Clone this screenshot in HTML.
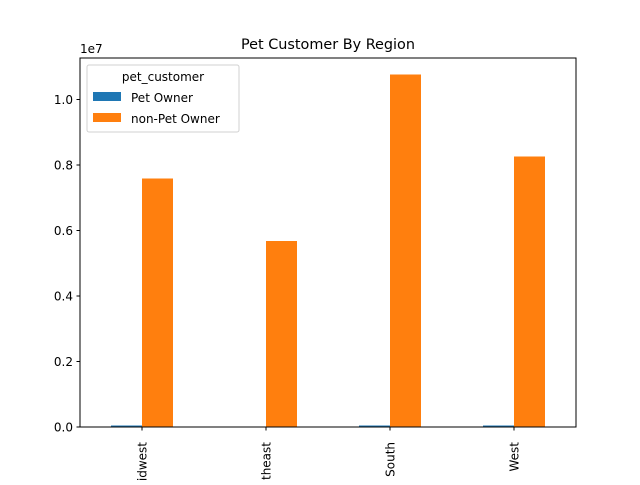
<!DOCTYPE html><html><head><style>body{margin:0;background:#fff}</style></head><body>
<svg width="640" height="480" xmlns="http://www.w3.org/2000/svg" font-family="DejaVu Sans, sans-serif">
<rect width="640" height="480" fill="#fff"/>
<text x="328" y="49" font-size="14.4" text-anchor="middle">Pet Customer By Region</text>
<g fill="#1f77b4">
<rect x="111" y="425.5" width="31" height="1.5"/>
<rect x="359" y="425.5" width="31" height="1.5"/>
<rect x="483" y="425.5" width="31" height="1.5"/>
</g>
<g fill="#ff7f0e">
<rect x="142" y="178.5" width="31" height="248.5"/>
<rect x="266" y="241" width="31" height="186"/>
<rect x="390" y="74.5" width="31" height="352.5"/>
<rect x="514" y="156.5" width="31" height="270.5"/>
</g>
<rect x="80" y="58" width="496" height="369" fill="none" stroke="#000" stroke-width="1"/>
<g stroke="#000">
<line x1="76.5" x2="80" y1="427" y2="427"/><line x1="76.5" x2="80" y1="361.5" y2="361.5"/>
<line x1="76.5" x2="80" y1="296" y2="296"/><line x1="76.5" x2="80" y1="230.5" y2="230.5"/>
<line x1="76.5" x2="80" y1="165" y2="165"/><line x1="76.5" x2="80" y1="99.5" y2="99.5"/>
<line x1="142" x2="142" y1="427" y2="430.5"/><line x1="266" x2="266" y1="427" y2="430.5"/>
<line x1="390" x2="390" y1="427" y2="430.5"/><line x1="514" x2="514" y1="427" y2="430.5"/>
</g>
<g font-size="12" text-anchor="end">
<text x="73" y="431.5">0.0</text><text x="73" y="366">0.2</text><text x="73" y="300.5">0.4</text>
<text x="73" y="235">0.6</text><text x="73" y="169.5">0.8</text><text x="73" y="104">1.0</text>
</g>
<text x="80" y="53" font-size="12">1e7</text>
<g font-size="12" text-anchor="end">
<text transform="translate(146.5,442) rotate(-90)">Midwest</text>
<text transform="translate(270.5,442) rotate(-90)">Northeast</text>
<text transform="translate(394.5,442) rotate(-90)">South</text>
<text transform="translate(518.5,442) rotate(-90)">West</text>
</g>
<rect x="87" y="65" width="152" height="67" rx="2" fill="#fff" stroke="#ccc" opacity="0.9"/>
<text x="163" y="81" font-size="12" text-anchor="middle">pet_customer</text>
<rect x="93" y="92" width="28" height="9" fill="#1f77b4"/>
<text x="131" y="102" font-size="12">Pet Owner</text>
<rect x="93" y="113" width="28" height="9" fill="#ff7f0e"/>
<text x="131" y="123" font-size="12">non-Pet Owner</text>
</svg>
</body></html>
